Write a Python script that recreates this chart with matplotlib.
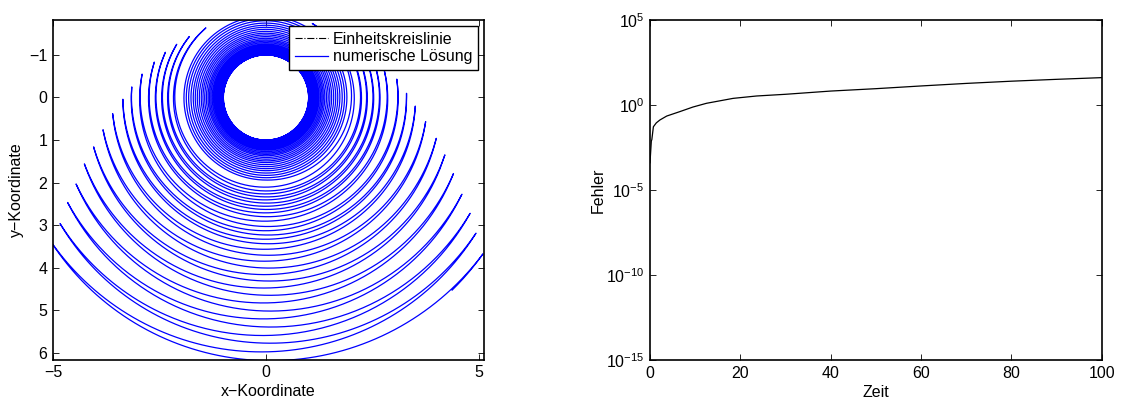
import numpy as np
import matplotlib
matplotlib.use("Agg")
import matplotlib.pyplot as plt

plt.rcParams['font.family'] = ['Liberation Sans', 'DejaVu Sans']
plt.rcParams['font.size'] = 11.5
plt.rcParams['mathtext.fontset'] = 'custom'
plt.rcParams['mathtext.rm'] = 'Liberation Sans'
plt.rcParams['mathtext.it'] = 'Liberation Sans:italic'

# ---- data ----
# rotating phase: radius at the n-th crossing of the lowest point
rot_crossing = [0, 10, 16, 20, 24, 28, 32, 36, 40, 44]
rot_radius = [1.00, 1.02, 1.05, 1.09, 1.15, 1.24, 1.37, 1.53, 1.72, 1.94]
# swinging phase: turning points (radius, angle from the downward vertical in deg;
# positive = right side, negative = left side)
cusp_radius = [2.05, 2.16, 2.23, 2.30, 2.37, 2.44, 2.52, 2.59, 2.67, 2.75, 2.85,
               2.96, 3.10, 3.16, 3.30, 3.36, 3.51, 3.62, 3.79, 3.90, 4.11, 4.21,
               4.41, 4.54, 4.75, 4.90, 5.13, 5.27, 5.51, 5.67, 5.87, 6.08, 6.28]
cusp_angle = [148, -139.2, 134, -128.5, 124.5, -120.8, 117.5, -114.2, 111, -107.6,
              104, -100.7, 98, -94.5, 91.7, -89.3, 86.7, -84.0, 81.4, -78.8, 76.5,
              -74.0, 72.2, -69.9, 67.9, -65.5, 63.7, -62.1, 60.4, -58.5, 57.1,
              -56.3, 54.2]
# last computed point
end_radius = 6.29
end_angle = 44.0

# error curve (right panel)
t_err = [0.0, 0.3, 0.4, 0.75, 1.4, 2.2, 3.7, 6.6, 9.5, 12.5, 18.4, 23.6,
         30, 40, 50, 60, 70, 80, 90, 100]
log_err = [-3.4, -2.1, -2.05, -1.28, -1.05, -0.88, -0.65, -0.39, -0.12, 0.1,
           0.39, 0.53, 0.63, 0.82, 0.96, 1.12, 1.27, 1.40, 1.51, 1.61]

# ---- build the path (angle knots, radius knots) ----
a_knots = [2 * np.pi * n for n in rot_crossing]
r_knots = list(rot_radius)
base = 2 * np.pi * rot_crossing[-1]
a_knots += [base + np.deg2rad(a) for a in cusp_angle] + [base + np.deg2rad(end_angle)]
r_knots += cusp_radius + [end_radius]

xs, ys = [], []
for i in range(len(a_knots) - 1):
    a0, a1 = a_knots[i], a_knots[i + 1]
    m = max(20, int(abs(a1 - a0) / (2 * np.pi) * 720))
    a = np.linspace(a0, a1, m)
    rr = np.linspace(r_knots[i], r_knots[i + 1], m)
    xs.append(rr * np.sin(a))
    ys.append(rr * np.cos(a))
xs = np.concatenate(xs)
ys = np.concatenate(ys)

# ---- figure ----
fig = plt.figure(figsize=(11.21, 4.01), dpi=100)
W, H = 1121, 401
axL = fig.add_axes([53 / W, 1 - 359.7 / H, 430.7 / W, 339.7 / H])
axR = fig.add_axes([650 / W, 1 - 360 / H, 451.7 / W, 340 / H])

phi = np.linspace(0, 2 * np.pi, 400)
axL.plot(np.cos(phi), np.sin(phi), color='k', ls='-.', lw=0.8, label='Einheitskreislinie')
axL.plot(xs, ys, color='b', lw=0.9, label='numerische L\u00f6sung')

axL.set_xlim(-5, 5.11)
axL.set_ylim(6.16, -1.82)
axL.set_xticks([-5, 0, 5])
axL.set_xticklabels(['\u22125', '0', '5'])
axL.set_yticks(range(-1, 7))
axL.set_yticklabels(['\u22121'] + [str(v) for v in range(0, 7)])
axL.set_xlabel('x\u2212Koordinate', labelpad=3)
axL.set_ylabel('y\u2212Koordinate', labelpad=4)
leg = axL.legend(loc='upper right', bbox_to_anchor=(0.9875, 0.982), fancybox=False,
                 edgecolor='k', framealpha=1, borderaxespad=0, handlelength=2.1,
                 borderpad=0.35, labelspacing=0.15, handletextpad=0.3)
leg.get_frame().set_linewidth(1.0)

axR.semilogy(t_err, 10.0 ** np.array(log_err), color='k', lw=0.9)
axR.set_xlim(0, 100)
axR.set_ylim(1e-15, 1e5)
axR.set_xticks([0, 20, 40, 60, 80, 100])
axR.set_yticks([1e-15, 1e-10, 1e-5, 1e0, 1e5])
axR.set_yticklabels([r'$10^{-15}$', r'$10^{-10}$', r'$10^{-5}$', r'$10^{0}$', r'$10^{5}$'])
axR.yaxis.set_minor_locator(matplotlib.ticker.NullLocator())
axR.set_xlabel('Zeit', labelpad=3)
axR.set_ylabel('Fehler', labelpad=0)

for ax in (axL, axR):
    ax.tick_params(direction='in', top=True, right=True, length=4, width=0.6, pad=4)
    for sp in ax.spines.values():
        sp.set_linewidth(1.2)

fig.savefig('out.png', dpi=100)
